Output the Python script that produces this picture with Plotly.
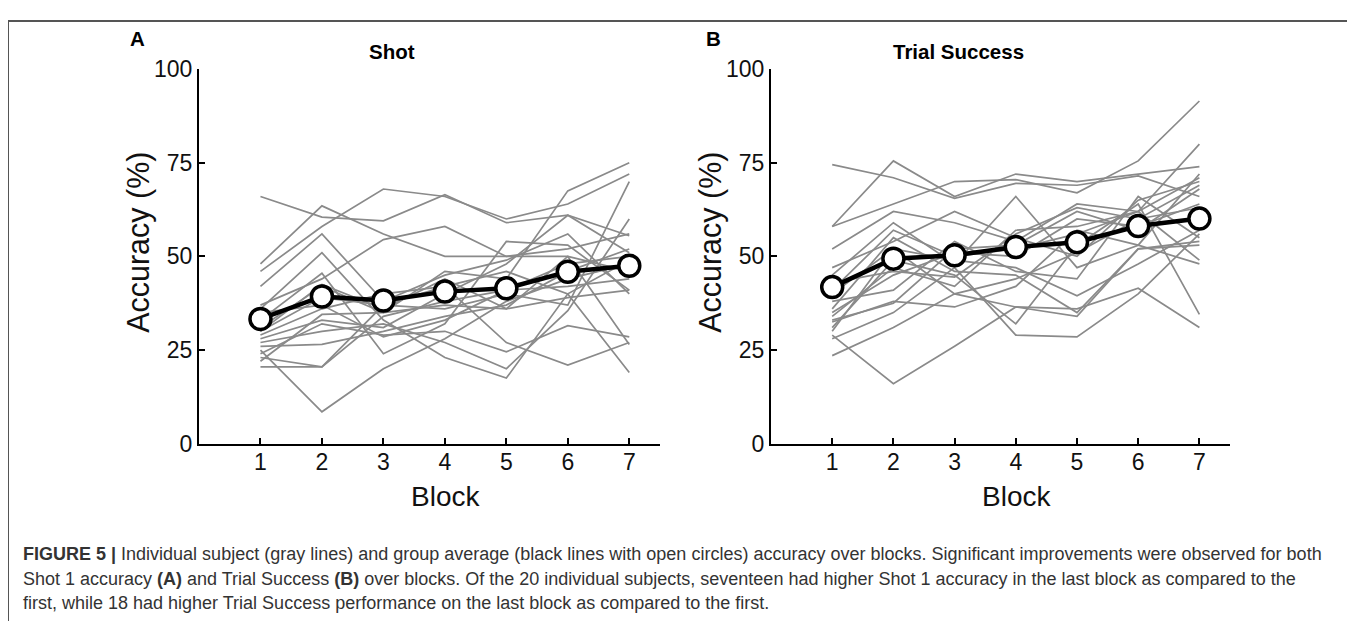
import plotly.graph_objects as go

# figure size; page adds a body margin around it
W, H = 1339, 630

blocks = [1, 2, 3, 4, 5, 6, 7]
y_ticks = [0, 25, 50, 75, 100]

# panel A: Shot 1 accuracy per subject (%)
shot_subjects = [
    [66, 60.5, 59.5, 66.5, 59, 61, 51],
    [46, 58, 68, 66, 60, 64, 72],
    [48, 63.5, 56, 50, 50, 52, 56],
    [42, 56, 38, 45, 49, 56, 40],
    [37, 44, 54.5, 58, 50, 50, 46],
    [36, 51, 33, 23, 17.5, 40, 49],
    [33, 45.5, 24, 32, 54, 53, 41],
    [31, 42, 35, 46, 44, 67.5, 75],
    [30, 39, 37, 36, 40, 37, 70],
    [29, 36, 40, 42, 46, 40, 19],
    [28, 33, 31, 40, 48, 61, 55.5],
    [27, 30, 32, 27, 20, 35.5, 60],
    [26, 26.5, 30, 34, 37, 46, 52],
    [25, 8.5, 20, 28, 38, 44, 48],
    [24, 32, 29, 30, 24.5, 31.5, 28.5],
    [23, 20.5, 37, 42, 27, 21, 27],
    [22, 34.5, 35, 37, 36, 39, 41],
    [20.5, 20.5, 34, 38, 41, 42, 44],
    [35, 37, 28.5, 33, 41, 48, 50],
    [30, 42.5, 36, 44, 36, 50, 26.5],
]
shot_mean = [33.3, 39.3, 38.2, 40.6, 41.5, 45.9, 47.5]

# panel B: trial success per subject (%)
trial_subjects = [
    [74.5, 71, 65.5, 69.5, 69, 71.5, 66],
    [58, 75.5, 66, 72, 70, 72, 74],
    [58, 64, 70, 70.5, 67, 75.5, 91.5],
    [52, 62, 59, 54, 64, 62, 80],
    [47, 54, 62, 55, 50, 65, 70],
    [45, 59, 48, 66, 47, 53, 72],
    [43, 46, 44.5, 56, 63, 60, 69],
    [40, 52, 49, 47, 39.5, 48, 57],
    [38, 41, 54, 46, 44, 66, 55],
    [36, 55, 46, 45, 35, 52, 54],
    [34, 47, 42, 57, 58, 62, 49],
    [32.5, 38, 36.5, 42, 57, 53, 48],
    [31, 49, 45, 32, 53, 64, 34.5],
    [30, 52, 40, 36.5, 36, 41.5, 31],
    [29, 16, 26, 36.5, 34, 52, 53],
    [28, 35, 47, 29, 28.5, 40, 56],
    [23.5, 31, 40, 44, 51, 60, 63],
    [35, 45, 51, 50, 60, 58, 64],
    [41, 57, 50, 52, 56, 62, 71],
    [33, 37.5, 52, 53, 62, 57, 68],
]
trial_mean = [41.8, 49.4, 50.3, 52.5, 53.8, 58.1, 60.1]

caption_lines = [
    "<b>FIGURE 5 |</b> Individual subject (gray lines) and group average (black lines with open circles) "
    "accuracy over blocks. Significant improvements were observed for both",
    "Shot 1 accuracy <b>(A)</b> and Trial Success <b>(B)</b> over blocks. Of the 20 individual subjects, "
    "seventeen had higher Shot 1 accuracy in the last block as compared to the",
    "first, while 18 had higher Trial Success performance on the last block as compared to the first.",
]

FONT = "Liberation Sans, Arial, sans-serif"


def px(x):
    # screenshot pixel -> paper fraction (horizontal)
    return (x - 8) / W


def py(y):
    # screenshot pixel -> paper fraction (vertical), fitted from earlier renders
    return 1 - ((y - 20) / 0.955) / H


fig = go.Figure()

panels = [
    ("x", "y", shot_subjects, shot_mean),
    ("x2", "y2", trial_subjects, trial_mean),
]
for xa, ya, subjects, mean in panels:
    for s in subjects:
        fig.add_trace(go.Scatter(
            x=blocks, y=s, xaxis=xa, yaxis=ya, mode="lines",
            line=dict(color="#8a8a8a", width=1.7), hoverinfo="skip",
        ))
    fig.add_trace(go.Scatter(
        x=blocks, y=mean, xaxis=xa, yaxis=ya, mode="lines+markers",
        line=dict(color="black", width=4.5),
        marker=dict(size=21, color="white", line=dict(color="black", width=3.5)),
    ))

axis_common = dict(
    showgrid=False, zeroline=False, showline=True, linecolor="black", linewidth=2,
    ticks="inside", ticklen=6, tickwidth=2, tickcolor="black",
    tickfont=dict(family=FONT, size=23, color="#111"),
)
x_common = dict(axis_common, range=[0, 7.5], tickvals=blocks, ticklabelstandoff=-3)
y_common = dict(axis_common, range=[0, 100], tickvals=y_ticks, ticklabelstandoff=0)

ydom = [py(441), py(68)]
fig.update_layout(
    xaxis=dict(x_common, domain=[px(199), px(660)], anchor="y"),
    yaxis=dict(y_common, domain=ydom, anchor="x"),
    xaxis2=dict(x_common, domain=[px(771), px(1230)], anchor="y2"),
    yaxis2=dict(y_common, domain=ydom, anchor="x2"),
)

ann = []
for cx_label, cx_axis, letter, lx, title, tx in [
    (139, 445, "A", 137, "Shot", 392),
    (711, 1016, "B", 713, "Trial Success", 958),
]:
    ann.append(dict(x=px(cx_label), y=py(241), text="Accuracy (%)", textangle=-90,
                    font=dict(family=FONT, size=30.5, color="#111")))
    ann.append(dict(x=px(cx_axis), y=py(494), text="Block",
                    font=dict(family=FONT, size=28, color="#111")))
    ann.append(dict(x=px(lx), y=py(37), text="<b>" + letter + "</b>",
                    font=dict(family=FONT, size=20.5, color="black")))
    ann.append(dict(x=px(tx), y=py(50), text="<b>" + title + "</b>",
                    font=dict(family=FONT, size=20.5, color="black")))

for i, line in enumerate(caption_lines):
    ann.append(dict(x=px(21), y=py(551 + i * 24.5), text=line, xanchor="left",
                    font=dict(family=FONT, size=18, color="#333")))

for a in ann:
    a.setdefault("xanchor", "center")
    a.update(xref="paper", yref="paper", yanchor="middle", showarrow=False)

fig.update_layout(
    annotations=ann,
    shapes=[
        dict(type="line", xref="paper", yref="paper", x0=0, x1=1, y0=1, y1=1,
             line=dict(color="#555", width=2)),
        dict(type="line", xref="paper", yref="paper", x0=0, x1=0, y0=1, y1=0,
             line=dict(color="#555", width=2)),
    ],
    width=W, height=H, margin=dict(l=0, r=0, t=0, b=0),
    paper_bgcolor="white", plot_bgcolor="white", showlegend=False,
)

fig.write_html("out.html")
